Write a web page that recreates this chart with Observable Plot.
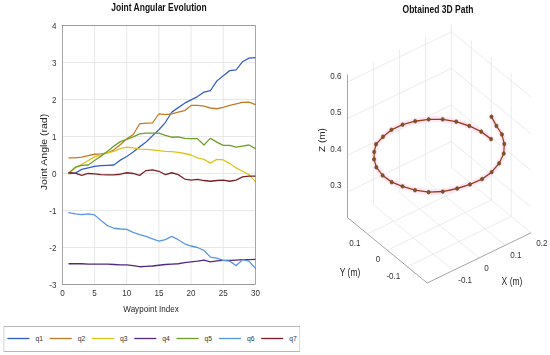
<!DOCTYPE html>
<html><head><meta charset="utf-8">
<script src="https://cdn.jsdelivr.net/npm/d3@7"></script>
<script src="https://cdn.jsdelivr.net/npm/@observablehq/plot@0.6"></script>
<style>
html,body{margin:0;padding:0;background:#fff;overflow:hidden;width:550px;height:355px}
#wrap{position:absolute;left:0;top:0;width:647px;height:355px;transform:scaleX(0.85);transform-origin:0 0;font-family:"Liberation Sans",Arial,sans-serif;color:#262626}
.abs{position:absolute;white-space:nowrap}
</style></head><body><div id="wrap"></div>
<script>
const S = 0.85;               // horizontal compression of the whole figure
const X = px => px / S;

// ---------- Left panel data ----------
const waypoints = [1,2,3,4,5,6,7,8,9,10,11,12,13,14,15,16,17,18,19,20,21,22,23,24,25,26,27,28,29,30];
const seriesNames = ["q1","q2","q3","q4","q5","q6","q7"];
const seriesColors = ["#2f5cc4","#c07a26","#dcc414","#52297e","#6a9e28","#5596e2","#7a2024"];
const q1 = [0.00,0.01,0.11,0.15,0.19,0.21,0.22,0.23,0.36,0.46,0.58,0.72,0.85,1.02,1.18,1.38,1.66,1.78,1.90,1.99,2.08,2.20,2.24,2.50,2.64,2.78,2.80,3.02,3.12,3.13];
const q2 = [0.42,0.42,0.44,0.48,0.52,0.53,0.56,0.64,0.78,0.94,1.05,1.34,1.36,1.37,1.61,1.59,1.61,1.66,1.70,1.84,1.84,1.82,1.77,1.75,1.79,1.84,1.88,1.92,1.93,1.86];
const q3 = [0.00,0.15,0.25,0.35,0.45,0.50,0.56,0.60,0.67,0.71,0.69,0.66,0.65,0.64,0.62,0.60,0.59,0.57,0.54,0.50,0.42,0.38,0.28,0.38,0.37,0.27,0.15,0.06,-0.03,-0.22];
const q4 = [-2.44,-2.44,-2.44,-2.45,-2.45,-2.45,-2.45,-2.46,-2.47,-2.47,-2.49,-2.52,-2.51,-2.50,-2.48,-2.46,-2.45,-2.44,-2.41,-2.39,-2.37,-2.34,-2.39,-2.36,-2.35,-2.35,-2.34,-2.33,-2.33,-2.32];
const q5 = [0.02,0.17,0.22,0.23,0.35,0.47,0.60,0.74,0.86,0.92,0.99,1.07,1.09,1.09,1.09,1.03,0.98,0.99,0.95,0.94,0.94,0.77,0.95,0.85,0.76,0.76,0.71,0.74,0.77,0.67];
const q6 = [-1.06,-1.09,-1.11,-1.09,-1.12,-1.27,-1.41,-1.48,-1.50,-1.51,-1.59,-1.65,-1.70,-1.77,-1.83,-1.79,-1.70,-1.79,-1.90,-1.96,-2.00,-2.08,-2.26,-2.29,-2.35,-2.37,-2.49,-2.33,-2.37,-2.56];
const q7 = [0.02,0.01,-0.05,0.00,-0.01,-0.03,-0.04,-0.04,-0.02,0.02,0.00,-0.05,0.08,0.10,0.06,-0.03,0.02,-0.03,-0.15,-0.18,-0.16,-0.19,-0.21,-0.19,-0.18,-0.21,-0.18,-0.09,-0.07,-0.07];
const seriesValues = [q1,q2,q3,q4,q5,q6,q7];
const xTicks = [0,5,10,15,20,25,30];
const yTicks = [-3,-2,-1,0,1,2,3,4];

// ---------- Right panel data (3D path) ----------
const pathX = [0.177,0.176,0.175,0.171,0.162,0.122,0.078,0.034,-0.011,-0.054,-0.098,-0.134,-0.161,-0.180,-0.194,-0.196,-0.187,-0.169,-0.147,-0.120,-0.081,-0.040,0.002,0.043,0.081,0.115,0.141,0.160,0.172,0.174];
const pathY = [-0.031,-0.057,-0.086,-0.103,-0.112,-0.141,-0.161,-0.170,-0.168,-0.160,-0.145,-0.121,-0.088,-0.050,-0.014,0.029,0.072,0.107,0.135,0.161,0.177,0.188,0.187,0.177,0.159,0.133,0.099,0.058,0.014,-0.033];
const pathZ = [0.479,0.466,0.456,0.439,0.42,0.42,0.42,0.42,0.42,0.42,0.42,0.42,0.42,0.42,0.42,0.42,0.42,0.42,0.42,0.42,0.42,0.42,0.42,0.42,0.42,0.42,0.42,0.42,0.42,0.42];
const xTicks3 = [-0.1,0,0.1,0.2];
const yTicks3 = [-0.1,0,0.1];
const zTicks3 = [0.3,0.4,0.5,0.6];
const xLim3 = [-0.2,0.2], yLim3 = [-0.2,0.2], zLim3 = [0.23,0.62];

const wrap = document.getElementById("wrap");
const FONT = '"Liberation Sans", Arial, sans-serif';

function addText(txt, x, y, size, opts = {}) {
  const d = document.createElement("div");
  d.className = "abs";
  d.textContent = txt;
  d.style.left = X(x) + "px";
  d.style.top = y + "px";
  d.style.fontSize = size + "px";
  d.style.lineHeight = "1";
  d.style.fontWeight = opts.bold ? "bold" : "normal";
  d.style.color = opts.color || "#262626";
  d.style.transform = "translate(-50%,-50%)";
  wrap.appendChild(d);
}
function addSvgText(svg, txt, x, y, size, rotate) {
  d3.select(svg).append("text")
    .attr("transform", `translate(${x},${y}) rotate(${rotate})`)
    .attr("text-anchor", "middle").attr("dy", "0.35em")
    .attr("font-size", size).attr("font-family", FONT).attr("fill", "#262626")
    .text(txt);
}

// ---------- Left chart ----------
const rows = [];
seriesNames.forEach((n, i) => seriesValues[i].forEach((v, j) => rows.push({x: waypoints[j], y: v, s: n})));

const left = Plot.plot({
  width: X(275), height: 320,
  marginLeft: X(62), marginRight: X(20), marginTop: 25, marginBottom: 36,
  style: {fontFamily: FONT, fontSize: "9.5px", color: "#333", background: "transparent"},
  x: {domain: [0, 30]},
  y: {domain: [-3, 4]},
  color: {domain: seriesNames, range: seriesColors},
  marks: [
    Plot.gridX(xTicks, {stroke: "#e6e6e6", strokeOpacity: 1}),
    Plot.gridY(yTicks, {stroke: "#e6e6e6", strokeOpacity: 1}),
    Plot.line(rows, {x: "x", y: "y", z: "s", stroke: "s", strokeWidth: 1.3}),
    Plot.frame({stroke: "#8a8a8a", strokeWidth: 0.8}),
    Plot.axisX({ticks: xTicks, tickSize: 0, tickPadding: 5, label: null, tickFormat: d => String(d)}),
    Plot.axisY({ticks: yTicks, tickSize: 0, tickPadding: X(6), label: null, tickFormat: d => String(d)})
  ]
});
left.style.position = "absolute";
left.style.left = "0px";
left.style.top = "0px";
addSvgText(left, "Joint Angle (rad)", X(44), 152, 10.5, -90);
wrap.appendChild(left);

addText("Joint Angular Evolution", 159, 8, 10, {bold: true, color: "#111"});
addText("Waypoint Index", 151, 309, 9.5);

// ---------- Legend ----------
const leg = d3.create("svg")
  .attr("width", X(297)).attr("height", 26)
  .style("position", "absolute").style("left", X(3) + "px").style("top", "326px");
leg.append("rect").attr("x", 0.5).attr("y", 0.5).attr("width", X(297) - 1).attr("height", 25)
  .attr("fill", "#fff").attr("stroke", "#a6a6a6").attr("stroke-width", 0.8);
seriesNames.forEach((n, i) => {
  const x0 = X(4 + 42.3 * i);
  leg.append("line").attr("x1", x0).attr("x2", x0 + X(22)).attr("y1", 12.5).attr("y2", 12.5)
    .attr("stroke", seriesColors[i]).attr("stroke-width", 1.3);
  leg.append("text").attr("x", x0 + X(28)).attr("y", 12.5).attr("dy", "0.35em")
    .attr("font-size", 8).attr("font-family", FONT).attr("fill", "#333").text(n);
});
wrap.appendChild(leg.node());

// ---------- Right chart (3D projection, MATLAB view az=-37.5, el=30) ----------
const AZ = -37.5 * Math.PI / 180, EL = 30 * Math.PI / 180;
function proj(x, y, z) {
  const xn = (x - xLim3[0]) / (xLim3[1] - xLim3[0]);
  const yn = (y - yLim3[0]) / (yLim3[1] - yLim3[0]);
  const zn = (z - zLim3[0]) / (zLim3[1] - zLim3[0]);
  return {
    u: Math.cos(AZ) * xn + Math.sin(AZ) * yn,
    v: Math.cos(EL) * zn + Math.sin(EL) * (-Math.sin(AZ) * xn + Math.cos(AZ) * yn)
  };
}
const seg = (a, b) => { const p = proj(...a), q = proj(...b); return {x1: p.u, y1: p.v, x2: q.u, y2: q.v}; };
const [xa, xb] = xLim3, [ya, yb] = yLim3, [za, zb] = zLim3;
const grid3 = [
  ...xTicks3.map(t => seg([t, yb, za], [t, yb, zb])),
  ...zTicks3.map(t => seg([xa, yb, t], [xb, yb, t])),
  ...yTicks3.map(t => seg([xb, t, za], [xb, t, zb])),
  ...zTicks3.map(t => seg([xb, ya, t], [xb, yb, t])),
  ...xTicks3.map(t => seg([t, ya, za], [t, yb, za])),
  ...yTicks3.map(t => seg([xa, t, za], [xb, t, za]))
];
const axes3 = [
  seg([xa, yb, za], [xa, yb, zb]),
  seg([xa, ya, za], [xa, yb, za]),
  seg([xa, ya, za], [xb, ya, za])
];
const path = pathX.map((x, i) => ({...proj(x, pathY[i], pathZ[i])}));
const xLab = xTicks3.map(t => ({...proj(t, ya, za), t: String(t)}));
const yLab = yTicks3.map(t => ({...proj(xa, t, za), t: String(t)}));
const zLab = zTicks3.map(t => ({...proj(xa, yb, t), t: String(t)}));
const uLo = Math.sin(AZ), uHi = Math.cos(AZ);

const right = Plot.plot({
  width: X(260), height: 300,
  margin: 0,
  style: {fontFamily: FONT, fontSize: "9.5px", color: "#333", background: "transparent", overflow: "visible"},
  x: {domain: [uLo, uHi], range: [X(57.2), X(240.9)], axis: null},
  y: {domain: [0, 1], range: [282.5, 117.5], axis: null},
  marks: [
    Plot.link(grid3, {x1: "x1", y1: "y1", x2: "x2", y2: "y2", stroke: "#e4e4e4", strokeWidth: 0.8}),
    Plot.link(axes3, {x1: "x1", y1: "y1", x2: "x2", y2: "y2", stroke: "#858585", strokeWidth: 0.8}),
    Plot.line(path, {x: "u", y: "v", stroke: "#fde6f5", strokeWidth: 6, strokeLinejoin: "round"}),
    Plot.line(path, {x: "u", y: "v", stroke: "#9b3b1b", strokeWidth: 1.4}),
    Plot.dot(path, {x: "u", y: "v", r: 1.9, fill: "#6e5a28", stroke: "#8a421e", strokeWidth: 0.6}),
    Plot.text(zLab, {x: "u", y: "v", text: "t", textAnchor: "end", dx: X(-6), dy: -6.5, fill: "#333"}),
    Plot.text(yLab, {x: "u", y: "v", text: "t", textAnchor: "end", dx: X(-7), dy: 9, fill: "#333"}),
    Plot.text(xLab, {x: "u", y: "v", text: "t", textAnchor: "start", dx: X(5), dy: 10, fill: "#333"})
  ]
});
right.style.position = "absolute";
right.style.left = X(290) + "px";
right.style.top = "0px";
addSvgText(right, "Z (m)", X(322 - 290), 140, 10, -90);
wrap.appendChild(right);

addText("Obtained 3D Path", 438, 10, 10, {bold: true, color: "#111"});
addText("X (m)", 512, 282, 10);
addText("Y (m)", 350, 273, 10);
</script>
</body></html>
